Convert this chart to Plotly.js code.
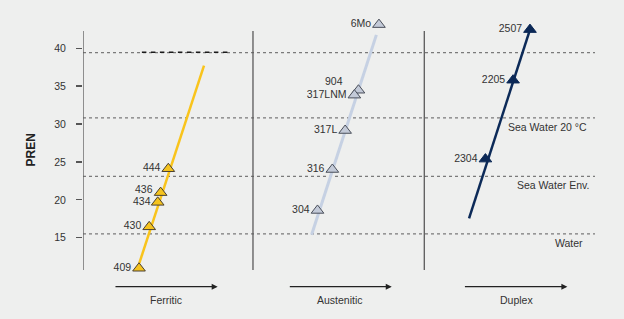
<!DOCTYPE html>
<html>
<head>
<meta charset="utf-8">
<script src="https://cdn.plot.ly/plotly-3.0.1.min.js"></script>
<style>
html,body{margin:0;padding:0;background:#eeefee;}
#chart{width:624px;height:319px;}
</style>
</head>
<body>
<div id="chart"></div>
<script>
// ---- data ----
const ferriticNames = ['409', '430', '434', '436', '444'];
const ferriticX = [10.94, 12.93, 14.59, 15.16, 16.66];
const ferriticPREN = [10.98, 16.44, 19.67, 20.95, 24.1];
const ferriticLineX = [11.0, 23.63];
const ferriticLineY = [11.66, 37.7];

const austeniticNames = ['304', '316', '317L', '904', '317LNM', '6Mo'];
const austeniticX = [45.8, 48.7, 51.2, 53.8, 53.0, 57.8];
const austeniticPREN = [18.6, 24.0, 29.14, 34.45, 33.8, 43.1];
const austeniticLineX = [44.65, 57.3];
const austeniticLineY = [15.4, 41.75];

const duplexNames = ['2304', '2205', '2507'];
const duplexX = [78.6, 84.0, 87.3];
const duplexPREN = [25.37, 35.77, 42.44];
const duplexLineX = [75.4, 87.3];
const duplexLineY = [17.56, 42.44];

const thresholdValues = [15.5, 23.1, 30.8, 39.4];
const thresholdLabels = ['Water', 'Sea Water Env.', 'Sea Water 20 °C', ''];
const thresholdLabelX = [94.9, 91.7, 90.8, 0];

const families = ['Ferritic', 'Austenitic', 'Duplex'];
const familyArrowTail = [6.05, 40.1, 74.3];
const familyArrowHead = [26.3, 60.3, 94.6];
const familyLabelX = [16.3, 50.2, 84.6];
const panelDividers = [33.2, 66.66];
const yTicks = [15, 20, 25, 30, 35, 40];
const frameBottom = 10.75;
const frameTop = 42.25;

// ---- styles ----
const FONT = 'Liberation Sans, Arial, sans-serif';
const TXT = '#333333';
// labels placed individually (name -> pixel offset of the label's right edge / centre from its marker)
const labelOffsets = {'904': [-13, 9], '436': [-6, 3.5], '434': [-4.5, 1.5]};

function lineTrace(x, y, color, width) {
  return {x: x, y: y, mode: 'lines', type: 'scatter', hoverinfo: 'skip',
    line: {color: color, width: width}, cliponaxis: false, showlegend: false};
}
function markerTrace(names, x, y, fill, outline) {
  return {x: x, y: y, text: names.map(n => labelOffsets[n] ? '' : n), mode: 'markers+text', type: 'scatter',
    textposition: 'middle left',
    textfont: {family: FONT, size: 10.5, color: TXT},
    marker: {symbol: 'triangle-up', size: 11, color: fill, line: {color: outline, width: 1}},
    cliponaxis: false, showlegend: false, hoverinfo: 'skip'};
}

const data = [
  lineTrace(ferriticLineX, ferriticLineY, '#f9c41c', 2.5),
  lineTrace(austeniticLineX, austeniticLineY, '#c6d1e3', 3),
  lineTrace(duplexLineX, duplexLineY, '#0c2a58', 2.5),
  markerTrace(ferriticNames, ferriticX, ferriticPREN, '#f5c31e', '#4a4030'),
  markerTrace(austeniticNames, austeniticX, austeniticPREN, '#c3cad8', '#4a4f5a'),
  markerTrace(duplexNames, duplexX, duplexPREN, '#0b2856', '#0b2856')
];

const shapes = [];
thresholdValues.forEach(v => shapes.push({type: 'line', xref: 'paper', x0: 0, x1: 1, yref: 'y', y0: v, y1: v,
  line: {color: '#7a7a7a', width: 1.2, dash: '3px,3px'}, layer: 'below'}));
// left axis line and panel dividers
[0].concat(panelDividers).forEach(x => shapes.push({type: 'line', xref: 'x', x0: x, x1: x, yref: 'y', y0: frameBottom, y1: frameTop,
  line: {color: '#5a5a5a', width: 1.3}, layer: 'below'}));
// black dashed artifact near the top of the ferritic panel
shapes.push({type: 'line', xref: 'x', x0: 11.5, x1: 28.7, yref: 'y', y0: 39.47, y1: 39.47,
  line: {color: '#1a1a1a', width: 1.5, dash: '4.5px,4.5px'}, layer: 'above'});

const annotations = [];
[[ferriticNames, ferriticX, ferriticPREN], [austeniticNames, austeniticX, austeniticPREN]].forEach(([names, xs, ys]) => {
  names.forEach((n, i) => {
    const off = labelOffsets[n];
    if (!off) return;
    annotations.push({text: n, xref: 'x', x: xs[i], yref: 'y', y: ys[i],
      xanchor: 'right', yanchor: 'middle', xshift: off[0], yshift: off[1], showarrow: false,
      font: {family: FONT, size: 10.5, color: TXT}});
  });
});
thresholdLabels.forEach((t, i) => { if (t) annotations.push({text: t, xref: 'x', x: thresholdLabelX[i], yref: 'y', y: thresholdValues[i],
  xanchor: 'center', yanchor: 'top', yshift: -1, showarrow: false, font: {family: FONT, size: 10.5, color: TXT}}); });
families.forEach((f, i) => {
  annotations.push({text: '', xref: 'x', x: familyArrowHead[i], yref: 'paper', y: -0.066,
    axref: 'x', ax: familyArrowTail[i], ayref: 'pixel', ay: 0,
    showarrow: true, arrowhead: 2, arrowsize: 1, arrowwidth: 1.2, arrowcolor: '#222', standoff: 0});
  annotations.push({text: f, xref: 'x', x: familyLabelX[i], yref: 'paper', y: -0.119,
    xanchor: 'center', yanchor: 'middle', showarrow: false, font: {family: FONT, size: 10.5, color: TXT}});
});
annotations.push({text: '<b>PREN</b>', xref: 'paper', x: 0, xshift: -52, yref: 'y', y: (frameBottom + frameTop) / 2,
  xanchor: 'center', yanchor: 'middle', textangle: -90, showarrow: false,
  font: {family: FONT, size: 12, color: '#222'}});

const layout = {
  width: 624, height: 319,
  margin: {l: 83, r: 29, t: 18, b: 49},
  paper_bgcolor: '#eeefee', plot_bgcolor: '#eeefee',
  showlegend: false,
  xaxis: {range: [0, 100], visible: false, fixedrange: true},
  yaxis: {range: [frameBottom, 43.97], tickmode: 'array', tickvals: yTicks, ticktext: yTicks.map(String),
    showline: false, ticks: 'outside', ticklen: 6, tickwidth: 1.2,
    tickcolor: '#555', showgrid: false, zeroline: false, ticklabelstandoff: 8,
    tickfont: {family: FONT, size: 10.5, color: TXT}, fixedrange: true},
  shapes: shapes,
  annotations: annotations
};

Plotly.newPlot('chart', data, layout, {displayModeBar: false, staticPlot: true});
</script>
</body>
</html>
